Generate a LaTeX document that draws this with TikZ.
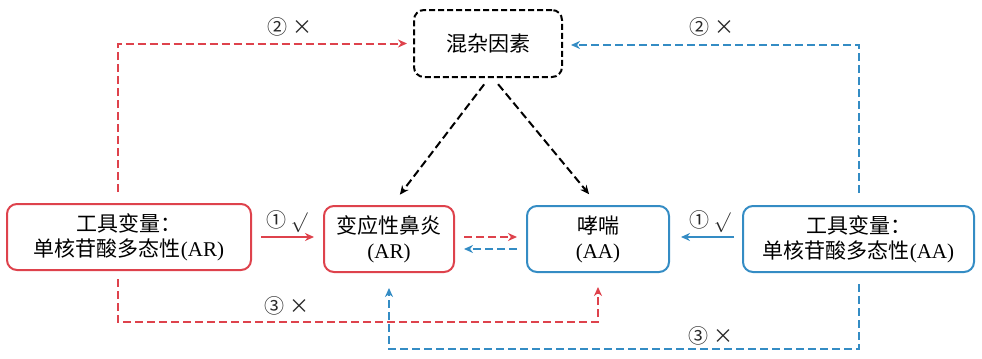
\documentclass[tikz,border=0pt]{standalone}
\usepackage{fontspec}
\setmainfont{Liberation Serif}
\newfontfamily\cjk{Noto Sans CJK SC}
\usepackage{xcolor}
\usepackage{tikz}
\usetikzlibrary{arrows.meta, positioning, calc}
\definecolor{mrred}{RGB}{222,66,76}
\definecolor{mrblue}{RGB}{52,140,196}
\definecolor{mrgray}{RGB}{40,40,40}
\tikzset{every node/.append style={align=center}}
\tikzset{
  redbox/.style={rectangle, draw=mrred, line width=1pt, rounded corners=5pt,
    minimum height=33pt, font=\fontsize{10.5}{12.5}\selectfont, inner sep=1pt},
  bluebox/.style={redbox, draw=mrblue},
  confbox/.style={redbox, draw=black, dashed, dash pattern=on 3pt off 1.5pt},
  lbl/.style={font=\fontsize{10}{12}\selectfont\cjk, text=mrgray},
  solidarr/.style={-{Stealth[length=4.5pt,width=4pt]}, line width=1pt},
  dasharr/.style={solidarr, dash pattern=on 4pt off 2pt},
  redarr/.style={solidarr, mrred},
  bluearr/.style={solidarr, mrblue},
  reddash/.style={dasharr, mrred},
  bluedash/.style={dasharr, mrblue},
  blackdash/.style={dasharr, black}
}
\begin{document}
\begin{tikzpicture}[x=0.5pt, y=-0.5pt]
  \useasboundingbox (0,0) rectangle (982,359);
  % boxes
  \node[redbox, minimum width=122pt] (ivar) at (129,237) {{\cjk 工具变量：}\\{\cjk 单核苷酸多态性}(AR)};
  \node[redbox, minimum width=65pt] (ar) at (389,239) {{\cjk 变应性鼻炎}\\(AR)};
  \node[bluebox, minimum width=71pt] (aa) at (598,239) {{\cjk 哮喘}\\(AA)};
  \node[bluebox, minimum width=115.5pt] (ivaa) at (858.5,239) {{\cjk 工具变量：}\\{\cjk 单核苷酸多态性}(AA)};
  \node[confbox, minimum width=74pt, minimum height=33.5pt] (conf) at (488,43.5) {\cjk 混杂因素};
  \coordinate (r3) at (300,322);
  \coordinate (b3) at (600,349);
  % confounder paths
  \draw[reddash, shorten <=5.5pt, shorten >=3pt] ([xshift=-5.5pt]ivar.north) |- (conf.west);
  \draw[bluedash, shorten <=6pt, shorten >=4pt] (ivaa.north) |- ([yshift=-0.75pt]conf.east);
  \draw[blackdash, shorten <=4pt, shorten >=6.5pt] ([xshift=0.5pt]conf.south) -- ([xshift=1.5pt]ar.north);
  \draw[blackdash, shorten <=4pt, shorten >=7pt] ([xshift=2.5pt]conf.south) -- (aa.north);
  % instrument arrows
  \draw[redarr, shorten <=4.5pt, shorten >=4.5pt] (ivar.east) -- (ivar.east -| ar.west);
  \draw[bluearr, shorten <=4pt, shorten >=5.5pt] ([yshift=1pt]ivaa.west) -- ([yshift=1pt]aa.east);
  \draw[reddash, shorten <=4.5pt, shorten >=4.5pt] ([yshift=1pt]ar.east) -- ([yshift=1pt]aa.west);
  \draw[bluedash, shorten <=4.5pt, shorten >=4.5pt] ([yshift=-5pt]aa.west) -- ([yshift=-5pt]ar.east);
  % pleiotropy paths
  \draw[reddash, shorten <=4pt, shorten >=7pt] ([xshift=-5.5pt]ivar.south) |- (r3) -| (aa.south);
  \draw[bluedash, shorten <=5.5pt, shorten >=7.5pt] (ivaa.south) |- (b3) -| (ar.south);
  % labels
  \node[lbl] (l2r) at (290,27) {② ×};
  \node[lbl] (l2b) at (712,27) {② ×};
  \node[lbl] (l1r) at (287,222) {① $\surd$};
  \node[lbl] (l1b) at (710,222) {① $\surd$};
  \node[lbl] (l3r) at (287,306) {③ ×};
  \node[lbl] (l3b) at (711,336) {③ ×};
\end{tikzpicture}
\end{document}
